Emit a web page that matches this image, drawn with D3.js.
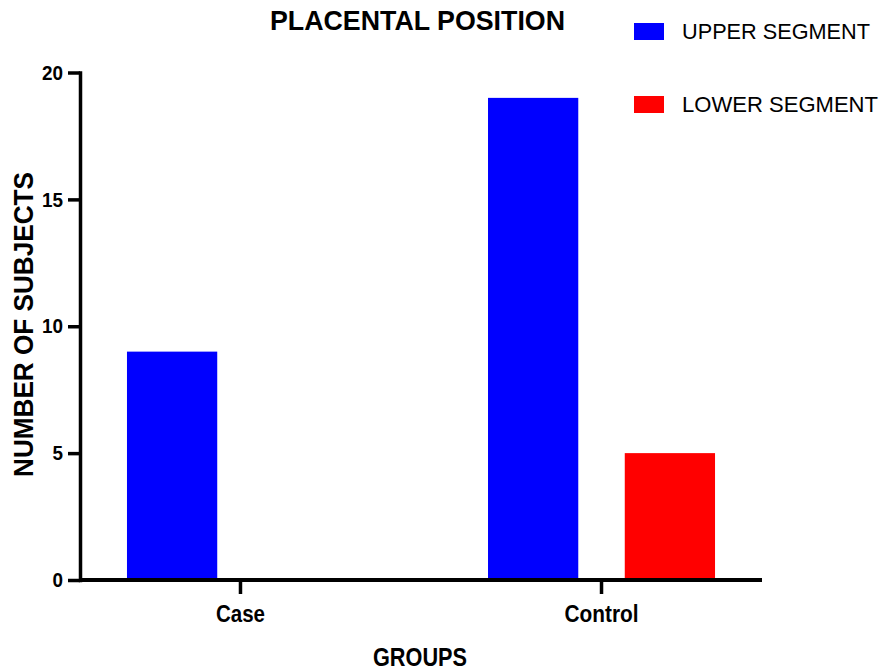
<!DOCTYPE html>
<html>
<head>
<meta charset="utf-8">
<script src="https://cdn.jsdelivr.net/npm/d3@7"></script>
<style>
  body { margin: 0; background: #fff; }
  text { font-family: "Liberation Sans", Arial, sans-serif; fill: #000; }
</style>
</head>
<body>
<div id="chart"></div>
<script>
const groups = ["Case", "Control"];
const series = ["UPPER SEGMENT", "LOWER SEGMENT"];
const upperValues = [9, 19];
const lowerValues = [0, 5];
const yTicks = [0, 5, 10, 15, 20];
const colors = ["#0000ff", "#ff0000"];

const margin = { top: 72.5, right: 124, bottom: 92, left: 80 },
    width = 886 - margin.left - margin.right,
    height = 672 - margin.top - margin.bottom;

const root = d3.select("#chart")
    .append("svg")
    .attr("width", 886)
    .attr("height", 672);

const svg = root.append("g")
    .attr("transform", "translate(" + margin.left + "," + margin.top + ")");

// scales
const x0 = d3.scaleBand()
    .domain(groups)
    .range([0, width])
    .paddingInner(0.3)
    .paddingOuter(0.0945);

const x1 = d3.scaleBand()
    .domain(series)
    .range([0, x0.bandwidth()])
    .paddingInner(0.34)
    .paddingOuter(0.094);

const y = d3.scaleLinear()
    .domain([0, 20])
    .range([height, 0]);

const color = d3.scaleOrdinal().domain(series).range(colors);

// the font in the original is a bit condensed, so squeeze the text
function squeeze(sel, perChar) {
    sel.attr("textLength", function() { return this.textContent.length * perChar; })
        .attr("lengthAdjust", "spacingAndGlyphs");
}

// rows for the bars
const rows = groups.map((g, i) => ({
    group: g,
    values: [
        { key: series[0], value: upperValues[i] },
        { key: series[1], value: lowerValues[i] }
    ]
}));

// bars
svg.selectAll("g.grp")
    .data(rows)
    .enter()
    .append("g")
    .attr("class", "grp")
    .attr("transform", d => "translate(" + x0(d.group) + ",0)")
    .selectAll("rect")
    .data(d => d.values.filter(v => v.value > 0))
    .enter()
    .append("rect")
    .attr("x", d => x1(d.key))
    .attr("width", x1.bandwidth())
    .attr("y", d => y(d.value))
    .attr("height", d => height - y(d.value))
    .attr("fill", d => color(d.key));

// Y axis
const yAxis = svg.append("g")
    .call(d3.axisLeft(y).tickValues(yTicks).tickSize(12).tickSizeOuter(0).tickPadding(5));
yAxis.select(".domain").attr("stroke-width", 3.5).attr("stroke-linecap", "square");
yAxis.selectAll(".tick line").attr("stroke-width", 3.5);
yAxis.selectAll(".tick text")
    .style("font-size", "21px")
    .style("font-weight", "bold")
    .call(squeeze, 10.5);

// X axis
const xAxis = svg.append("g")
    .attr("transform", "translate(0," + height + ")")
    .call(d3.axisBottom(x0).tickSize(14).tickPadding(14));
xAxis.select(".domain").remove();
xAxis.append("line")
    .attr("x1", 0)
    .attr("x2", width)
    .attr("stroke", "#000")
    .attr("stroke-width", 4);
xAxis.selectAll(".tick line").attr("stroke-width", 3.5);
xAxis.selectAll(".tick text")
    .attr("dy", "0.6em")
    .style("font-size", "23.5px")
    .style("font-weight", "bold")
    .attr("textLength", d => d === "Case" ? 49 : 74)
    .attr("lengthAdjust", "spacingAndGlyphs");

// title
root.append("text")
    .attr("x", 417.5)
    .attr("y", 30)
    .attr("text-anchor", "middle")
    .style("font-size", "28px")
    .style("font-weight", "bold")
    .attr("textLength", 295)
    .attr("lengthAdjust", "spacingAndGlyphs")
    .text("PLACENTAL POSITION");

// axis titles
root.append("text")
    .attr("x", 420)
    .attr("y", 666)
    .attr("text-anchor", "middle")
    .style("font-size", "26px")
    .style("font-weight", "bold")
    .attr("textLength", 94)
    .attr("lengthAdjust", "spacingAndGlyphs")
    .text("GROUPS");

root.append("text")
    .attr("transform", "translate(33,324.5) rotate(-90)")
    .attr("text-anchor", "middle")
    .style("font-size", "27px")
    .style("font-weight", "bold")
    .attr("textLength", 305)
    .attr("lengthAdjust", "spacingAndGlyphs")
    .text("NUMBER OF SUBJECTS");

// legend
const legend = root.selectAll("g.legend")
    .data(series)
    .enter()
    .append("g")
    .attr("class", "legend")
    .attr("transform", (d, i) => "translate(634," + (23 + i * 73) + ")");

legend.append("rect")
    .attr("width", 30)
    .attr("height", 17)
    .attr("fill", d => color(d));

legend.append("text")
    .attr("x", 48)
    .attr("y", 16)
    .style("font-size", "22.5px")
    .attr("textLength", (d, i) => [188, 196][i])
    .attr("lengthAdjust", "spacingAndGlyphs")
    .text(d => d);
</script>
</body>
</html>
